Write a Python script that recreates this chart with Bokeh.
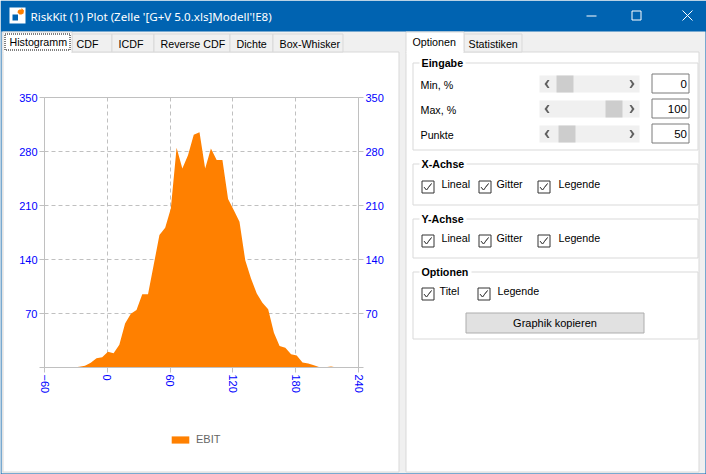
from bokeh.plotting import figure
from bokeh.models import (BoxAnnotation, Label, PolyAnnotation, Range1d, LinearAxis, FixedTicker,
                          Legend, LegendItem, Grid)
from bokeh.embed import file_html
from bokeh.resources import INLINE

# ---- data ----
bins = [-32.2, -26.8, -21.3, -15.8, -10.3, -4.9, 0.6, 6.0, 11.5, 17.0, 22.5, 27.9, 33.4, 38.9, 44.3, 49.8,
        55.3, 60.7, 66.2, 71.7, 77.1, 82.6, 88.1, 93.5, 99.0, 104.5, 110.0, 115.4, 120.9, 126.3, 131.8,
        137.3, 142.8, 148.2, 153.7, 159.2, 164.6, 170.1, 175.6, 181.0, 186.5, 192.0, 197.4, 202.9, 208.3,
        213.8, 219.3]
counts = [0, 0.9, 2.2, 6, 12, 13.4, 20.3, 18.5, 29.4, 57, 69.6, 74.4, 94.8, 94.8, 132.8, 171.6,
          181, 206, 285, 258, 275, 301.6, 305, 258, 284, 269, 269, 218.5, 204, 189, 139,
          115.5, 96, 84, 75.6, 45, 28, 25.5, 17.3, 15.6, 6.5, 5.2, 3, 0.4, 0.4, 1.3, 0]
baseline = [0] * len(bins)
x_ticks = [-60, 0, 60, 120, 180, 240]
y_ticks = [0, 70, 140, 210, 280, 350]
series_name = "EBIT"
window_title = "RiskKit (1)  Plot (Zelle '[G+V 5.0.xls]Modell'!E8)"
left_tabs = ["CDF", "ICDF", "Reverse CDF", "Dichte", "Box-Whisker"]

GRAY = "#c0c0c0"
BLUE = "#0000ff"
ORANGE = "#ff8000"
SANS = "Liberation Sans"
PLACE = {"position": "absolute", "left": "0px", "top": "0px"}

# ---- window furniture: a figure whose frame is the whole window, in pixels ----
ui = figure(width=706, height=474, output_backend="svg", toolbar_location=None,
            x_range=Range1d(0, 706), y_range=Range1d(474, 0), x_axis_type=None, y_axis_type=None,
            min_border=0, background_fill_color="#f0f0f0", border_fill_color="#f0f0f0",
            outline_line_color=None)
ui.grid.visible = False
ui.styles = PLACE


def box(l, t, r, b, fill=None, line=None, dash=None):
    kw = dict(line_dash=dash) if dash else {}
    ui.add_layout(BoxAnnotation(left=l, right=r, top=t, bottom=b,
                                fill_color=fill, fill_alpha=1 if fill else 0, line_color=line,
                                line_alpha=1 if line else 0, line_width=1, **kw))


def text(x, y, s, size=11, color="#000000", align="left", bold=False, font=SANS):
    ui.add_layout(Label(x=x, y=y, text=s, text_align=align, text_baseline="middle", text_font=font,
                        text_font_size=f"{size}px", text_color=color,
                        text_font_style="bold" if bold else "normal"))


def poly(xs, ys, fill=None, line=None, width=1):
    ui.add_layout(PolyAnnotation(xs=xs, ys=ys, fill_color=fill, fill_alpha=1 if fill else 0, line_color=line,
                                 line_alpha=1 if line else 0, line_width=width))


EDGE = "#d9d9d9"
TITLE = "#0063b1"
box(0, 0, 706, 474, fill=TITLE)
box(1, 31, 705, 473, fill="#f0f0f0")
# title bar
box(9, 7, 25, 23, fill="#ffffff")
poly([19, 21, 21, 23.5, 23, 21, 19, 17, 17.5], [9, 9, 7.5, 10, 13, 14, 14, 12, 10], fill=ORANGE)
box(12, 14, 17.5, 20, fill=TITLE)
text(30, 15.5, window_title, size=11.6, color="#ffffff", font="Noto Sans")
box(586, 15, 596, 16, fill="#ffffff")
box(631.5, 10.5, 640.5, 19.5, line="#ffffff")
poly([682, 692], [10, 20], line="#ffffff")
poly([692, 682], [10, 20], line="#ffffff")

# left tab page
box(2.5, 51.5, 398.5, 471.5, fill="#ffffff", line=EDGE)
tab_edges = [(71.5, 111.5), (111.5, 153.5), (153.5, 229.5), (229.5, 272.5), (272.5, 342.5)]
tab_text_x = [76, 118, 160, 236, 279]
for (a, c), tx, name in zip(tab_edges, tab_text_x, left_tabs):
    box(a, 33.5, c, 51.5, fill="#f0f0f0", line=EDGE)
    text(tx, 43, name, size=10.7)
box(2.5, 31.5, 71.5, 52, fill="#ffffff", line=EDGE)
box(3, 51, 71, 53, fill="#ffffff")
box(4.5, 33.5, 69.5, 49.5, line="#000000", dash="1 1")
text(9, 41, "Histogramm", size=10.7)

# right tab page
box(405.5, 51.5, 698.5, 471.5, fill="#ffffff", line=EDGE)
box(463.5, 33.5, 521.5, 51.5, fill="#f0f0f0", line=EDGE)
text(468, 43, "Statistiken", size=10.7)
box(405.5, 31.5, 463.5, 52, fill="#ffffff", line=EDGE)
box(406, 51, 463, 53, fill="#ffffff")
text(412, 41, "Optionen", size=10.7)


def group(t, b, title, title_w):
    box(412.5, t, 697.5, b, line=EDGE)
    box(419, t - 2, 419 + title_w, t + 2, fill="#ffffff")
    text(421, t, title, bold=True, size=10.7)


group(62.5, 149.5, "Eingabe", 46)
group(163.5, 204.5, "X-Achse", 47)
group(218.5, 257.5, "Y-Achse", 47)
group(271.5, 338.5, "Optionen", 52)

# sliders
rows = [("Min, %", 84, 75, 556, "0", 73), ("Max, %", 109, 100, 605, "100", 98), ("Punkte", 134, 125, 558, "50", 123)]
for name, cy, top, thumb, val, ibox in rows:
    text(420, cy, name, size=10.7)
    box(539, top, 639, top + 17, fill="#f0f0f0")
    box(thumb, top, thumb + 17, top + 17, fill="#cdcdcd")
    c = top + 8.5
    poly([549, 547, 544, 547, 549, 546.5], [c - 4, c - 4, c, c + 4, c + 4, c], fill="#606060")
    poly([629, 631, 634, 631, 629, 631.5], [c - 4, c - 4, c, c + 4, c + 4, c], fill="#606060")
    box(651.5, ibox + 0.5, 688.5, ibox + 19.5, fill="#ffffff", line="#7a7a7a")
    text(686.5, cy - 1, val, size=11.5, align="right")


def check(x, y, label, lx, ly):
    box(x + 0.5, y + 0.5, x + 12.5, y + 12.5, fill="#ffffff", line="#333333")
    poly([x + 2.5, x + 5, x + 10, x + 5], [y + 6.5, y + 9.5, y + 3, y + 9.5], line="#555555")
    text(lx, ly - 0.5, label, size=10.7)


for y, ly_ in ((180, 184), (234, 238)):
    check(421, y, "Lineal", 441, ly_)
    check(478, y, "Gitter", 496, ly_)
    check(537, y, "Legende", 558, ly_)
check(421, 287, "Titel", 439, 291)
check(477, 287, "Legende", 497, 291)

box(465.5, 312.5, 643.5, 332.5, fill="#e1e1e1", line="#adadad")
text(554.5, 322, "Graphik kopieren", align="center", size=11)

# ---- the chart, transparent, laid over the window ----
p = figure(width=706, height=474, output_backend="svg", toolbar_location=None,
           x_range=Range1d(-60, 240), y_range=Range1d(0, 350), x_axis_type=None, y_axis_type=None,
           min_border_left=44, min_border_right=348, min_border_top=97, min_border_bottom=107,
           frame_width=314, frame_height=270,
           background_fill_color=None, border_fill_color=None,
           outline_line_color=GRAY, outline_line_width=1)
p.styles = PLACE


def style_axis(ax, ticks, orient=None, overrides=None):
    ax.ticker = FixedTicker(ticks=ticks)
    ax.axis_line_color = GRAY
    ax.major_tick_line_color = GRAY
    ax.major_tick_out = 5
    ax.major_tick_in = 0
    ax.minor_tick_line_color = None
    ax.major_label_text_color = BLUE
    ax.major_label_text_font = SANS
    ax.major_label_text_font_size = "11px"
    ax.major_label_standoff = 2
    if orient is not None:
        ax.major_label_orientation = orient
    if overrides:
        ax.major_label_overrides = overrides


hide_zero = {0: ""}
bx = LinearAxis(); style_axis(bx, x_ticks, "vertical"); p.add_layout(bx, "below")
ly = LinearAxis(); style_axis(ly, y_ticks, None, hide_zero); p.add_layout(ly, "left")
ry = LinearAxis(); style_axis(ry, y_ticks, None, hide_zero); p.add_layout(ry, "right")

gx = Grid(dimension=0, ticker=FixedTicker(ticks=x_ticks), grid_line_color=GRAY, grid_line_dash="4 3")
gy = Grid(dimension=1, ticker=FixedTicker(ticks=y_ticks), grid_line_color=GRAY, grid_line_dash="4 3")
p.add_layout(gx, "center")
p.add_layout(gy, "center")

p.varea(x=bins, y1=baseline, y2=counts, fill_color=ORANGE)

# ---- legend strip, a small transparent figure under the chart whose frame holds the legend ----
key = figure(width=706, height=474, output_backend="svg", toolbar_location=None,
             x_range=Range1d(1000, 1001), y_range=Range1d(1000, 1001), x_axis_type=None, y_axis_type=None,
             min_border_left=161, min_border_right=466, min_border_top=425, min_border_bottom=19,
             frame_width=79, frame_height=30,
             background_fill_color=None, border_fill_color=None, outline_line_color=None)
key.grid.visible = False
key.styles = PLACE
key_area = key.varea(x=bins, y1=baseline, y2=counts, fill_color=ORANGE)
legend = Legend(items=[LegendItem(label=series_name, renderers=[key_area])], location=(8, 10),
                border_line_color=None, background_fill_color=None, glyph_width=22, glyph_height=9,
                label_text_font=SANS, label_text_font_size="11px", label_text_color="#666666",
                label_standoff=5, padding=0, margin=0, label_height=9)
key.add_layout(legend, "center")

open("out.html", "w").write(file_html([ui, p, key], INLINE))
